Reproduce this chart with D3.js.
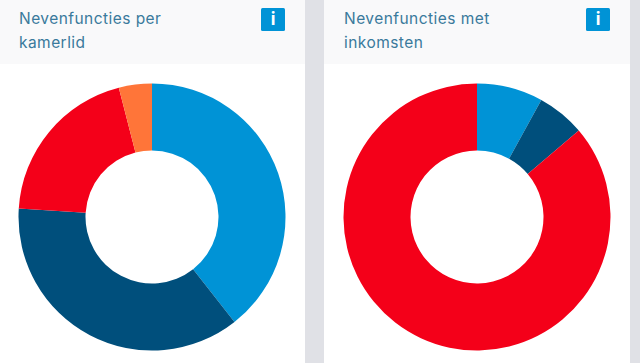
<!DOCTYPE html>
<html>
<head>
<meta charset="utf-8">
<script src="https://cdn.jsdelivr.net/npm/d3@7"></script>
<style>
  html, body { margin: 0; padding: 0; background: #e0e1e6; overflow: hidden; }
  svg { display: block; }
  .card-title { font-family: Inter, "Open Sans", sans-serif; font-size: 15.5px; letter-spacing: 0.45px; fill: #3a7a9c; }
  .info-label { font-family: "Open Sans", sans-serif; font-size: 17px; font-weight: 700; fill: #fff; text-anchor: middle; }
</style>
</head>
<body>
<svg id="chart" width="640" height="363"></svg>
<script>
// Twee donuts naast elkaar: nevenfuncties per kamerlid en met inkomsten.
const perMemberValues = [39.4, 36.6, 20, 4];
const perMemberColors = ["#0093d6", "#004f7c", "#f40019", "#ff7539"];
const incomeValues = [8, 5.8, 86.2];
const incomeColors = ["#0093d6", "#004f7c", "#f40019"];
const perMemberTitle = ["Nevenfuncties per", "kamerlid"];
const incomeTitle = ["Nevenfuncties met", "inkomsten"];

const svg = d3.select("#chart");
const pie = d3.pie().sort(null).value((d) => d);
const arc = d3.arc().innerRadius(66.5).outerRadius(133.5);

function drawCard(cardX, cardWidth, centerX, titleX, infoX, title, values, colors) {
  const card = svg.append("g");

  card.append("rect")
    .attr("x", cardX).attr("y", 0)
    .attr("width", cardWidth).attr("height", 363)
    .attr("fill", "#fff");
  card.append("rect")
    .attr("x", cardX).attr("y", 0)
    .attr("width", cardWidth).attr("height", 64)
    .attr("fill", "#f9f9fa");

  card.selectAll(".card-title")
    .data(title)
    .join("text")
    .attr("class", "card-title")
    .attr("x", titleX)
    .attr("y", (d, i) => 24 + i * 24)
    .text((d) => d);

  card.append("rect")
    .attr("x", infoX).attr("y", 8)
    .attr("width", 24).attr("height", 23)
    .attr("rx", 1.5)
    .attr("fill", "#0093d6");
  card.append("text")
    .attr("class", "info-label")
    .attr("x", infoX + 12).attr("y", 25)
    .text("i");

  card.append("g")
    .attr("transform", `translate(${centerX},217)`)
    .selectAll("path")
    .data(pie(values))
    .join("path")
    .attr("d", arc)
    .attr("fill", (d, i) => colors[i]);
}

drawCard(-10, 315, 152, 19, 261, perMemberTitle, perMemberValues, perMemberColors);
drawCard(324, 306, 477, 344, 586, incomeTitle, incomeValues, incomeColors);
</script>
</body>
</html>
